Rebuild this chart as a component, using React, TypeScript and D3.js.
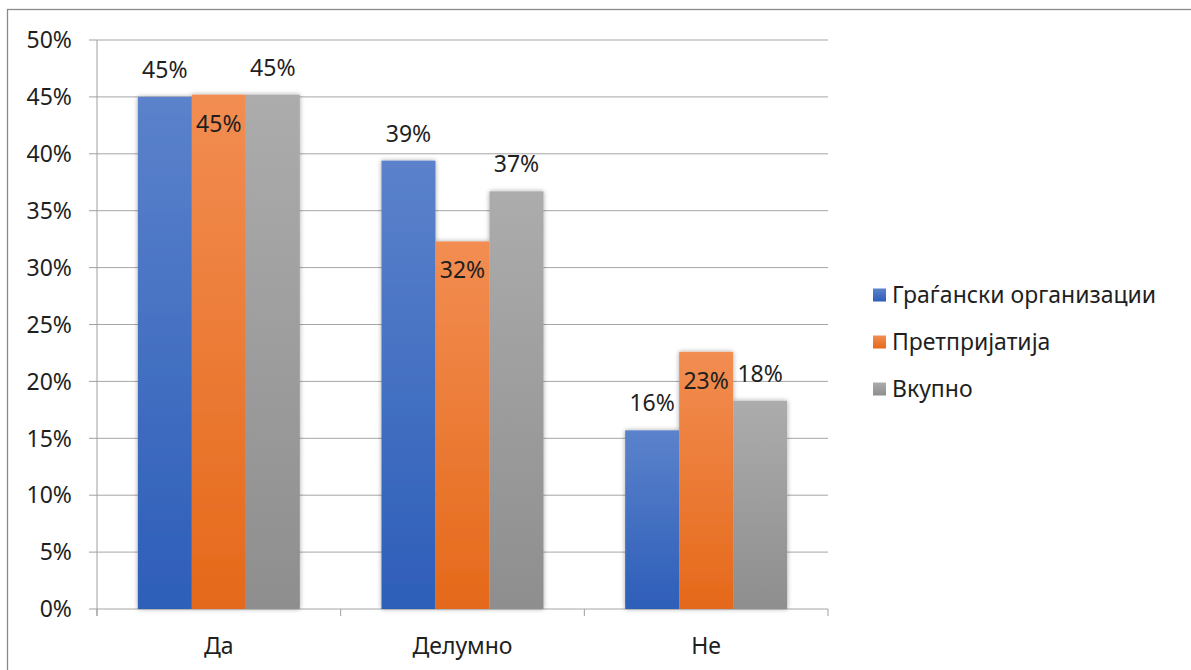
import React from "react";
import * as d3 from "d3";

const categories = ["Да", "Делумно", "Не"];
const seriesNames = ["Граѓански организации", "Претпријатија", "Вкупно"];
const civilOrgs = [0.450, 0.394, 0.157];
const companies = [0.452, 0.323, 0.226];
const total = [0.452, 0.367, 0.183];
const yTicks = [0, 0.05, 0.1, 0.15, 0.2, 0.25, 0.3, 0.35, 0.4, 0.45, 0.5];

const seriesValues = [civilOrgs, companies, total];
const colorsTop = ["#5b82cb", "#f28d52", "#acacac"];
const colorsBottom = ["#2d5eb9", "#e5691a", "#8e8e8e"];
const labelInside = [false, true, false];

const W = 1191;
const H = 670;
const FONT = "'Noto Sans', sans-serif";
const TEXT = "#1f1f1f";
const FS = 23;

export default function App() {
  const x = d3.scaleBand<string>().domain(categories).range([97, 828]).padding(0);
  const xi = d3
    .scaleBand<number>()
    .domain([0, 1, 2])
    .range([0, x.bandwidth()])
    .paddingInner(0)
    .paddingOuter(0.756);
  const y = d3.scaleLinear().domain([0, 0.5]).range([609, 40]);
  const pct = (v: number) => `${Math.round(v * 100)}%`;

  return (
    <svg
      width={W}
      height={H}
      style={{ position: "absolute", left: 0, top: 0, background: "#fff" }}
      fontFamily={FONT}
    >
      <defs>
        {seriesNames.map((_, i) => (
          <linearGradient key={i} id={`g${i}`} x1="0" y1="0" x2="0" y2="1">
            <stop offset="0" stopColor={colorsTop[i]} />
            <stop offset="1" stopColor={colorsBottom[i]} />
          </linearGradient>
        ))}
        <filter id="shadow" x="-20%" y="-5%" width="140%" height="110%">
          <feGaussianBlur in="SourceAlpha" stdDeviation="2.5" />
          <feOffset dx="0" dy="0" result="b" />
          <feComponentTransfer>
            <feFuncA type="linear" slope="0.35" />
          </feComponentTransfer>
          <feMerge>
            <feMergeNode />
            <feMergeNode in="SourceGraphic" />
          </feMerge>
        </filter>
      </defs>

      <rect x={7.5} y={9.5} width={1400} height={900} fill="#fff" stroke="#8a8a8a" strokeWidth={1.3} />

      {yTicks.map((t) => (
        <g key={t}>
          <line x1={97} x2={828} y1={y(t)} y2={y(t)} stroke="#a6a6a6" strokeWidth={1} />
          <line x1={89} x2={97} y1={y(t)} y2={y(t)} stroke="#a0a0a0" strokeWidth={1} />
          <text x={72} y={y(t)} dy="0.36em" textAnchor="end" fontSize={FS} fill={TEXT}>
            {pct(t)}
          </text>
        </g>
      ))}
      <line x1={97} x2={97} y1={40} y2={616} stroke="#a0a0a0" strokeWidth={1} />
      {[...categories.map((c) => x(c)!), 828].map((px, i) => (
        <line key={i} x1={px} x2={px} y1={609} y2={616} stroke="#a0a0a0" strokeWidth={1} />
      ))}

      {categories.map((c, ci) => (
        <g key={c} filter="url(#shadow)">
          {seriesValues.map((vals, si) => (
            <rect
              key={si}
              x={x(c)! + xi(si)!}
              y={y(vals[ci])}
              width={xi.bandwidth()}
              height={y(0) - y(vals[ci])}
              fill={`url(#g${si})`}
            />
          ))}
        </g>
      ))}

      {categories.map((c, ci) =>
        seriesValues.map((vals, si) => (
          <text
            key={`${c}-${si}`}
            x={x(c)! + xi(si)! + xi.bandwidth() / 2}
            y={labelInside[si] ? y(vals[ci]) + 37 : y(vals[ci]) - 19}
            textAnchor="middle"
            fontSize={FS}
            fill={TEXT}
          >
            {pct(vals[ci])}
          </text>
        ))
      )}

      {categories.map((c) => (
        <text key={c} x={x(c)! + x.bandwidth() / 2} y={654} textAnchor="middle" fontSize={FS} fill={TEXT}>
          {c}
        </text>
      ))}

      {seriesNames.map((n, i) => (
        <g key={n} transform={`translate(873, ${295 + i * 47})`}>
          <rect x={0} y={-6.5} width={13} height={13} fill={`url(#g${i})`} />
          <text x={19} y={0} dy="0.36em" fontSize={FS} fill={TEXT}>
            {n}
          </text>
        </g>
      ))}
    </svg>
  );
}
